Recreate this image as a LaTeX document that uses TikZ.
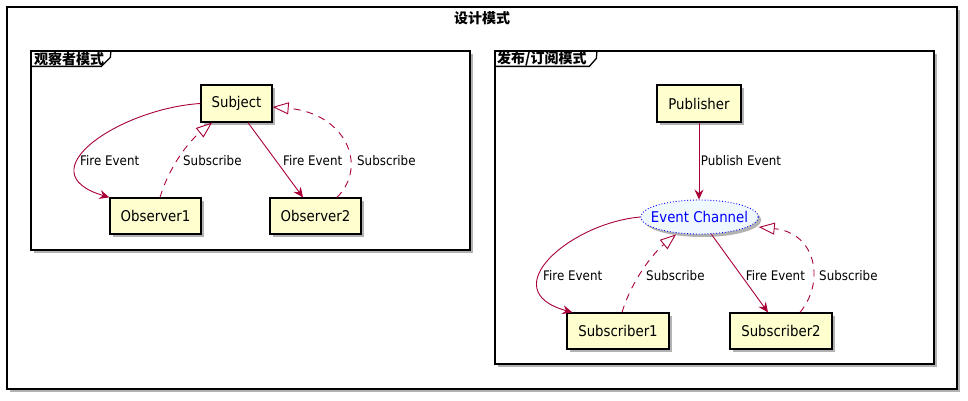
\documentclass[tikz,border=0pt]{standalone}
\usepackage{fontspec}
\setmainfont{DejaVu Sans}[FakeStretch=0.9]
\newfontfamily\cjk{Noto Sans CJK SC}
\usetikzlibrary{arrows.meta,shadows,shapes.geometric}
\definecolor{edgec}{HTML}{A80036}
\definecolor{nodefill}{HTML}{FEFECE}
\definecolor{ecfill}{HTML}{F0F8FF}
\tikzset{
  shad/.style={drop shadow={shadow xshift=3pt, shadow yshift=-3pt, fill=black, opacity=0.3}},
  cls/.style={rectangle, draw=black, line width=1.3pt, fill=nodefill, shad, minimum height=37pt, inner sep=0pt, font=\fontsize{14.8}{17}\selectfont},
  ecnode/.style={ellipse, draw=blue, dotted, line width=0.9pt, fill=ecfill, text=blue, shad, inner xsep=-7pt, inner ysep=0pt, minimum width=117pt, minimum height=34pt, font=\fontsize{14.8}{17}\selectfont},
  fire/.style={draw=edgec, line width=0.9pt, -{Stealth[length=10pt,width=9pt,inset=3.5pt]}},
  subs/.style={draw=edgec, line width=0.9pt, dash pattern=on 7pt off 6pt, -{Triangle[open,length=16pt,width=12pt]}},
  lbl/.style={anchor=west, inner sep=0pt, font=\fontsize{13.2}{15}\selectfont},
  frm/.style={rectangle, draw=black, line width=1.3pt, fill=white, shad, inner sep=0pt},
  ptitle/.style={anchor=west, inner sep=0pt, font=\cjk\bfseries\fontsize{14}{16}\selectfont},
}
\begin{document}
\begin{tikzpicture}[x=1pt, y=-1pt]
\useasboundingbox (0,0) rectangle (968,400);
% frames
\node[frm, minimum width=950pt, minimum height=382pt] (outer) at (482,198) {};
\node[anchor=center, inner sep=0pt, font=\cjk\bfseries\fontsize{14}{16}\selectfont] (title) at (482,18) {设计模式};
\node[frm, minimum width=439pt, minimum height=199pt] (lp) at (250.5,150.5) {};
\node[frm, minimum width=439pt, minimum height=313pt] (rp) at (714.5,207.5) {};
\draw[line width=1.3pt] ([yshift=-16pt]lp.north west) -- ++(71,0) -- ++(9,-9) -- (lp.north west -| 111,0);
\draw[line width=1.3pt] ([yshift=-16pt]rp.north west) -- ++(95,0) -- ++(7,-8) -- (rp.north west -| 597,0);
\node[ptitle] (lt) at (34,59) {观察者模式};
\node[ptitle] (rt) at (497,59) {发布/订阅模式};
% nodes left
\node[cls, minimum width=71pt] (Subject) at (236.5,103.5) {Subject};
\node[cls, minimum width=91pt, minimum height=36pt] (Observer1) at (155.5,216) {Observer1};
\node[cls, minimum width=91pt, minimum height=36pt] (Observer2) at (315.5,216) {Observer2};
% nodes right
\node[cls, minimum width=84pt] (Publisher) at (699,103.5) {Publisher};
\node[ecnode] (EC) at (699.5,217) {Event Channel};
\node[cls, minimum width=102pt, minimum height=36pt] (Subscriber1) at (618,331) {Subscriber1};
\node[cls, minimum width=102pt, minimum height=36pt] (Subscriber2) at (781,331) {Subscriber2};
% edges left
\draw[fire] (Subject.west) .. controls +(-80,5) and +(-85,-25) .. (Observer1.north west);
\draw[subs] ([xshift=4.5pt]Observer1.north) .. controls +(10,-33) and +(-22,18) .. ([xshift=-24.5pt]Subject.south);
\draw[fire] ([xshift=11.5pt]Subject.south) -- ([xshift=-12.5pt]Observer2.north);
\draw[subs] ([xshift=21.5pt]Observer2.north) .. controls +(32,-32) and +(72,6) .. ([yshift=-3.5pt]Subject.east);
\node[lbl] (l1) at (80,160.5) {Fire Event};
\node[lbl] (l2) at (183,160.5) {Subscribe};
\node[lbl] (l3) at (283,160.5) {Fire Event};
\node[lbl] (l4) at (357,160.5) {Subscribe};
% edges right
\draw[fire] (Publisher.south) -- (Publisher.south |- EC.north);
\draw[fire] (EC.west) .. controls +(-70,6) and +(-80,-22) .. ([xshift=6pt]Subscriber1.north west);
\draw[subs] ([xshift=4pt]Subscriber1.north) .. controls +(10,-33) and +(-22,18) .. ([xshift=-23.5pt]EC.south);
\draw[fire] ([xshift=12pt]EC.south) -- ([xshift=-13pt]Subscriber2.north);
\draw[subs] ([xshift=19pt]Subscriber2.north) .. controls +(25,-30) and +(58,6) .. ([yshift=-10pt]EC.east);
\node[lbl] (l5) at (700.7,160.5) {Publish Event};
\node[lbl] (l6) at (543,275.5) {Fire Event};
\node[lbl] (l7) at (646,275.5) {Subscribe};
\node[lbl] (l8) at (745.7,275.5) {Fire Event};
\node[lbl] (l9) at (819,275.5) {Subscribe};
\end{tikzpicture}
\end{document}
